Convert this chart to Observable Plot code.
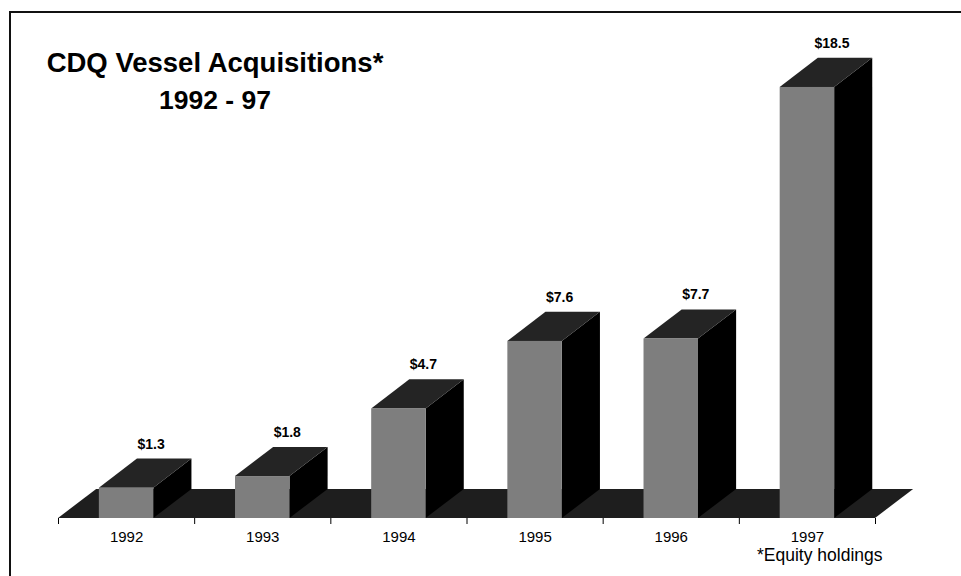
<!DOCTYPE html>
<html>
<head>
<meta charset="utf-8">
<script src="https://cdn.jsdelivr.net/npm/d3@7"></script>
<script src="https://cdn.jsdelivr.net/npm/@observablehq/plot@0.6"></script>
<style>
  html, body { margin: 0; padding: 0; background: #fff; overflow: hidden; }
  #wrap { position: relative; width: 961px; height: 576px; overflow: hidden; font-family: "Liberation Sans", Arial, sans-serif; color: #000; }
  #chart { position: absolute; left: 0; top: 0; }
  .rule { position: absolute; background: #111; }
  .title { position: absolute; left: 15px; width: 400px; text-align: center; font-weight: bold; line-height: 26px; }
  #note { position: absolute; left: 757px; top: 547px; font-size: 17.5px; line-height: 17px; }
</style>
</head>
<body>
<div id="wrap">
  <div id="chart"></div>
  <div class="rule" style="left:9px;top:11px;width:952px;height:2px"></div>
  <div class="rule" style="left:9px;top:11px;width:2px;height:565px"></div>
  <div class="title" style="top:50px;font-size:27.5px">CDQ Vessel Acquisitions*</div>
  <div class="title" style="top:87px;font-size:26.5px">1992 - 97</div>
  <div id="note">*Equity holdings</div>
</div>
<script>
const years = ["1992", "1993", "1994", "1995", "1996", "1997"];
const values = [1.3, 1.8, 4.7, 7.6, 7.7, 18.5];
const valueLabels = ["$1.3", "$1.8", "$4.7", "$7.6", "$7.7", "$18.5"];

// 3D extrusion, in scale units (band widths / value units)
const depthX = 0.28, depthY = 1.25, barInset = 0.3;
const n = years.length;

const bars = years.map((year, i) => ({
  year, i, value: values[i], label: valueLabels[i],
  x1: i + barInset, x2: i + 1 - barInset
}));
const sides = bars.flatMap(b => [
  {k: b.i, x: b.x2, y1: 0, y2: b.value},
  {k: b.i, x: b.x2 + depthX, y1: depthY, y2: b.value + depthY}
]);
const tops = bars.flatMap(b => [
  {k: b.i, y: b.value, x1: b.x1, x2: b.x2},
  {k: b.i, y: b.value + depthY, x1: b.x1 + depthX, x2: b.x2 + depthX}
]);
const floor = [
  {y: 0, x1: 0, x2: n},
  {y: depthY, x1: depthX, x2: n + depthX}
];

const chart = Plot.plot({
  width: 961,
  height: 576,
  marginLeft: 58,
  marginRight: 86,
  marginTop: 52,
  marginBottom: 58,
  x: {type: "linear", domain: [0, n], label: null},
  y: {domain: [0, 20], axis: null, label: null},
  style: {fontFamily: "'Liberation Sans', Arial, sans-serif", fontSize: "15px", color: "#000", background: "transparent"},
  marks: [
    Plot.areaX(floor, {y: "y", x1: "x1", x2: "x2", fill: "#1e1e1e"}),
    Plot.areaY(sides, {x: "x", y1: "y1", y2: "y2", z: "k", fill: "#000"}),
    Plot.areaX(tops, {y: "y", x1: "x1", x2: "x2", z: "k", fill: "#242424"}),
    Plot.rect(bars, {x1: "x1", x2: "x2", y1: 0, y2: "value", fill: "#7e7e7e"}),
    Plot.text(bars, {x: b => (b.x1 + b.x2) / 2 + 0.18, y: b => b.value + depthY, text: "label", dy: -15, fontWeight: "bold", fontSize: 14, fill: "#000"}),
    Plot.axisX({ticks: d3.range(n + 1), tickSize: 6, tickFormat: () => "", label: null}),
    Plot.axisX({ticks: d3.range(n).map(i => i + 0.5), tickSize: 0, tickPadding: 13, tickFormat: d => years[Math.floor(d)], fontSize: 15, label: null})
  ]
});
document.getElementById("chart").appendChild(chart);
</script>
</body>
</html>
